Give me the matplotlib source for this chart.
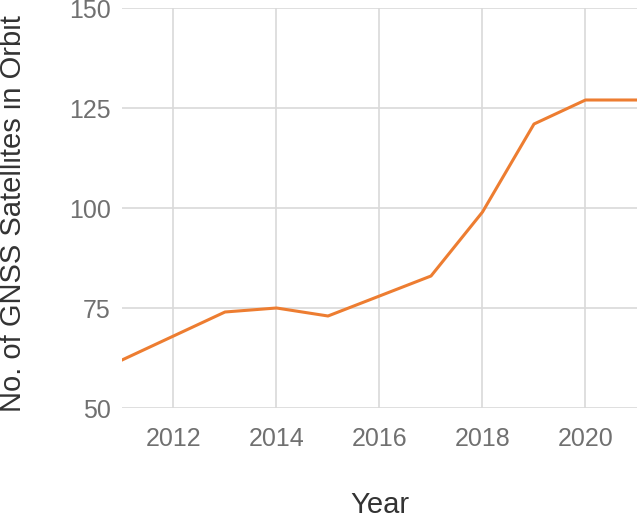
import matplotlib
matplotlib.use("Agg")
import matplotlib.pyplot as plt

years = [2011, 2012, 2013, 2014, 2015, 2016, 2017, 2018, 2019, 2020, 2021]
satellites = [62, 68, 74, 75, 73, 78, 83, 99, 121, 127, 127]
x_ticks = [2012, 2014, 2016, 2018, 2020]
y_ticks = [50, 75, 100, 125, 150]

plt.rcParams["font.family"] = ["Liberation Sans", "DejaVu Sans"]

W, H = 638, 518
fig = plt.figure(figsize=(W / 100, H / 100), dpi=100)
ax = fig.add_axes([122 / W, 110 / H, 515 / W, 400 / H])

ax.plot(years, satellites, color="#ED7D31", linewidth=2.2, zorder=3)

ax.set_xlim(2011, 2021)
ax.set_ylim(50, 150)
ax.set_xticks(x_ticks)
ax.set_yticks(y_ticks)
ax.grid(True, color="#d9d9d9", linewidth=1.2, zorder=0)
for s in ax.spines.values():
    s.set_visible(False)
ax.tick_params(axis="both", length=0, labelsize=18, labelcolor="#707070")
ax.tick_params(axis="x", pad=14)
ax.tick_params(axis="y", pad=8)

# axis titles placed in figure pixels to match the reference layout
fig.text(380 / W, 1 - 505 / H, "Year", fontsize=21, color="#333333",
         ha="center", va="center")
fig.text(13 / W, 1 - 214 / H, "No. of GNSS Satellites in Orbit", fontsize=21,
         color="#333333", ha="center", va="center", rotation=90)

fig.savefig("out.png", dpi=100)
